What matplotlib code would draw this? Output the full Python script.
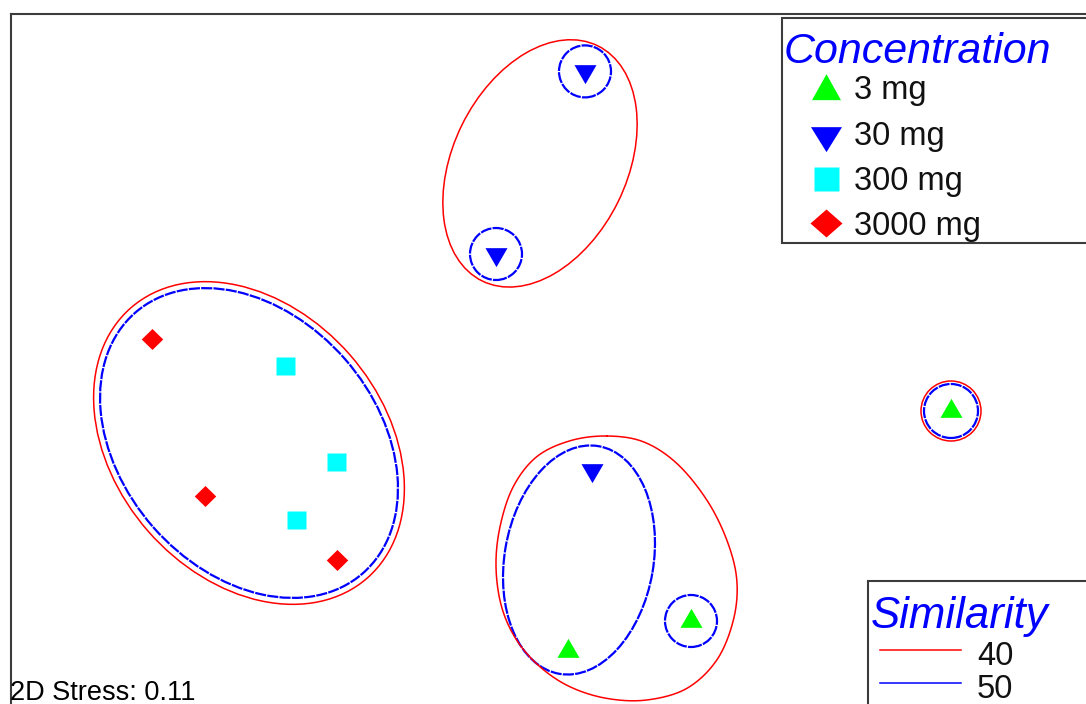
import numpy as np
import matplotlib.pyplot as plt
from matplotlib.patches import Ellipse, Circle, Rectangle
from matplotlib.lines import Line2D

# NMDS ordination (2D), one series per dose
groups = ['3 mg', '30 mg', '300 mg', '3000 mg']
x_3mg = [2.055, 0.138, 0.755]
y_3mg = [-0.255, -1.454, -1.305]
x_30mg = [0.225, -0.220, 0.258]
y_30mg = [1.443, 0.530, -0.550]
x_300mg = [-1.275, -1.020, -1.222]
y_300mg = [-0.029, -0.510, -0.799]
x_3000mg = [-1.938, -1.673, -1.016]
y_3000mg = [0.106, -0.678, -0.999]

stress = 0.11
sim_levels = [40, 50]

# cluster outlines: (centre, width, height, angle)
sim40_ellipses = [((0.0, 0.983), 1.31, 0.87, 63.8),
                  ((-1.455, -0.415), 1.795, 1.34, -48.8)]
sim50_ellipses = [((-1.455, -0.415), 1.73, 1.275, -48.8),
                  ((0.195, -1.0), 1.155, 0.745, 80.25)]
# 40% outline around the lower middle cluster
sim40_outline = [(0.334, -0.380), (0.150, -0.404), (-0.017, -0.484), (-0.134, -0.634),
                 (-0.200, -0.834), (-0.220, -1.034), (-0.192, -1.234), (-0.117, -1.400),
                 (0.000, -1.534), (0.150, -1.634), (0.334, -1.692), (0.534, -1.700),
                 (0.734, -1.642), (0.884, -1.500), (0.967, -1.300), (0.984, -1.100),
                 (0.934, -0.900), (0.834, -0.700), (0.684, -0.517), (0.517, -0.409)]
r50_single = 0.13
r40_single = 0.15

W, H, DPI = 1086, 704, 100
PT = DPI / 72.0


def fx(x):
    return x / W


def fy(y):
    return 1 - y / H


def marker(kind, w, h):
    # polygon marker centred on its centroid, size given in pixels
    if kind == 'up':
        v = [(0, 2 * h / 3), (-w / 2, -h / 3), (w / 2, -h / 3)]
    elif kind == 'down':
        v = [(0, -2 * h / 3), (-w / 2, h / 3), (w / 2, h / 3)]
    elif kind == 'square':
        v = [(-w / 2, -h / 2), (w / 2, -h / 2), (w / 2, h / 2), (-w / 2, h / 2)]
    else:
        v = [(0, h / 2), (w / 2, 0), (0, -h / 2), (-w / 2, 0)]
    m = max(abs(c) for p in v for c in p)
    return [(a / m, b / m) for a, b in v], 2 * m / PT


def closed_curve(pts, n=24):
    p = np.asarray(pts)
    k = len(p)
    t = np.linspace(0, 1, n, endpoint=False)[:, None]
    segs = []
    for i in range(k):
        p0, p1, p2, p3 = p[i - 1], p[i], p[(i + 1) % k], p[(i + 2) % k]
        segs.append(0.5 * (2 * p1 + (-p0 + p2) * t + (2 * p0 - 5 * p1 + 4 * p2 - p3) * t ** 2
                           + (-p0 + 3 * p1 - 3 * p2 + p3) * t ** 3))
    c = np.vstack(segs)
    return np.vstack([c, c[:1]])


plt.rcParams['font.family'] = ['Liberation Sans', 'DejaVu Sans']

red = '#ff0000'
blue = '#0000ff'
frame = '#3c3c3c'
lw40 = 1.1
lw50 = 1.6
dash50 = (0, (5, 0.55))

series = [
    (x_3mg, y_3mg, '#00ff00', 'up'),
    (x_30mg, y_30mg, '#0000ff', 'down'),
    (x_300mg, y_300mg, '#00ffff', 'square'),
    (x_3000mg, y_3000mg, '#ff0000', 'diamond'),
]
plot_size = {'up': (22, 19), 'down': (22, 19), 'square': (19, 18), 'diamond': (21.5, 21)}
legend_size = {'up': (29, 26), 'down': (31, 25), 'square': (25, 24), 'diamond': (32, 28)}

fig = plt.figure(figsize=(W / DPI, H / DPI), dpi=DPI)
# axes box runs past the right and bottom edges of the canvas
ax = fig.add_axes([fx(11), fy(720), (1100 - 11) / W, (720 - 14) / H])
ax.set_xlim(-2.645, 2.80)
ax.set_ylim(-1.80, 1.73)
ax.set_xticks([])
ax.set_yticks([])
for s in ['right', 'bottom']:
    ax.spines[s].set_visible(False)
for s in ['left', 'top']:
    ax.spines[s].set_color(frame)
    ax.spines[s].set_linewidth(1.5)

# similarity contours
for c, w, h, a in sim40_ellipses:
    ax.add_patch(Ellipse(c, w, h, angle=a, fill=False, ec=red, lw=lw40))
for c, w, h, a in sim50_ellipses:
    ax.add_patch(Ellipse(c, w, h, angle=a, fill=False, ec=blue, lw=lw50, ls=dash50))
egg = closed_curve(sim40_outline)
ax.plot(egg[:, 0], egg[:, 1], color=red, lw=lw40)

singles50 = [(x_30mg[0], y_30mg[0]), (x_30mg[1], y_30mg[1]),
             (x_3mg[2], y_3mg[2])]
for c in singles50:
    ax.add_patch(Circle(c, r50_single, fill=False, ec=blue, lw=lw50, ls=dash50))
ax.add_patch(Circle((x_3mg[0], y_3mg[0]), r50_single + 0.005, fill=False, ec=blue, lw=lw50, ls=dash50))
ax.add_patch(Circle((x_3mg[0], y_3mg[0]), r40_single, fill=False, ec=red, lw=lw40))

for xs, ys, col, kind in series:
    verts, ms = marker(kind, *plot_size[kind])
    ax.plot(xs, ys, ls='none', marker=verts, ms=ms, mfc=col, mec='none', zorder=5)

# stress annotation
fig.text(fx(10), fy(700), f'2D Stress: {stress:.2f}', fontsize=19.5, color='black',
         ha='left', va='baseline')

# Concentration legend
fig.patches.append(Rectangle((fx(782), fy(243)), fx(1100 - 782), (243 - 18) / H,
                             transform=fig.transFigure, fc='white', ec=frame, lw=1.5, zorder=10))
fig.text(fx(784), fy(63), 'Concentration', fontsize=31, style='italic', color=blue,
         ha='left', va='baseline', zorder=11)
marker_y = [90.5, 135, 178.7, 222.5]
for i, (xs, ys, col, kind) in enumerate(series):
    verts, ms = marker(kind, *legend_size[kind])
    fig.add_artist(Line2D([fx(826)], [fy(marker_y[i])], transform=fig.transFigure, ls='none',
                          marker=verts, ms=ms, mfc=col, mec='none', zorder=12))
    fig.text(fx(854), fy(99.5 + 45.2 * i), groups[i], fontsize=23.5, color='#111111',
             ha='left', va='baseline', zorder=12)

# Similarity legend
fig.patches.append(Rectangle((fx(868), fy(720)), fx(1100 - 868), (720 - 581) / H,
                             transform=fig.transFigure, fc='white', ec=frame, lw=1.5, zorder=10))
fig.text(fx(871), fy(628), 'Similarity', fontsize=31.5, style='italic', color=blue,
         ha='left', va='baseline', zorder=11)
for i, (lev, col) in enumerate(zip(sim_levels, [red, blue])):
    yl = 650 + 33 * i
    fig.add_artist(Line2D([fx(880), fx(961)], [fy(yl), fy(yl)], transform=fig.transFigure,
                          color=col, lw=1.1, zorder=12))
    fig.text(fx(977), fy(665 + 33 * i), str(lev), fontsize=23.5, color='#111111',
             ha='left', va='baseline', zorder=12)

fig.savefig('out.png', dpi=DPI)
